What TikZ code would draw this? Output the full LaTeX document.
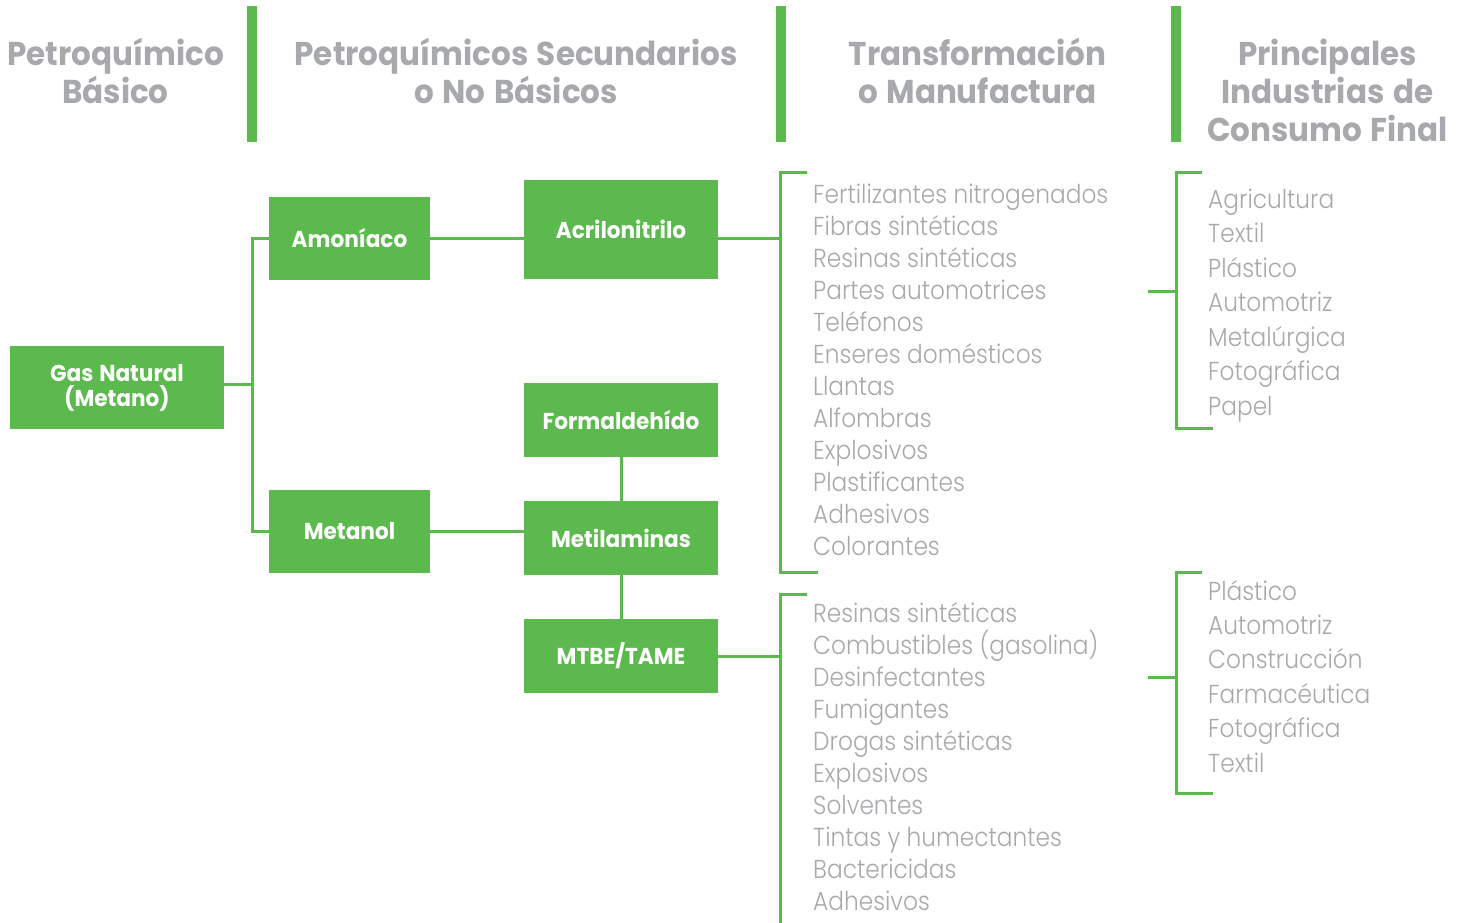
\documentclass[tikz,border=0pt]{standalone}
\usepackage{fontspec}
\IfFontExistsTF{Poppins Light}%
  {\newfontfamily\listfont[FakeStretch=0.895]{Poppins Light}}%
  {\newfontfamily\listfont[FakeStretch=0.895]{Poppins}}
\newfontfamily\headfont[FakeStretch=0.94,WordSpace=1.3]{Poppins}
\definecolor{pgreen}{HTML}{5BB94D}
\definecolor{pgray}{HTML}{A7A9AC}
\tikzset{
  gbox/.style={fill=pgreen, text=white, inner sep=0pt, align=center,
    font=\headfont\bfseries\fontsize{23}{25}\selectfont},
  conn/.style={draw=pgreen, line width=3pt},
  item/.style={anchor=base west, inner sep=0pt, text=pgray,
    font=\listfont\fontsize{26}{30}\selectfont},
  head/.style={anchor=base, inner sep=0pt, text=pgray,
    font=\headfont\bfseries\fontsize{33}{38}\selectfont},
}
\begin{document}
\begin{tikzpicture}[x=1pt,y=-1pt]
\useasboundingbox (0,0) rectangle (1467,922);
% header bars
\fill[pgreen] (247,6) rectangle (257,142);
\fill[pgreen] (776,6) rectangle (786,142);
\fill[pgreen] (1171,6) rectangle (1181,142);
% headings
\node[head] (h1a) at (115.5,65) {Petroquímico};
\node[head] (h1b) at (115.5,103) {Básico};
\node[head] (h2a) at (516,65) {Petroquímicos Secundarios};
\node[head] (h2b) at (516,103) {o No Básicos};
\node[head] (h3a) at (977.5,65) {Transformación};
\node[head] (h3b) at (977.5,103) {o Manufactura};
\node[head] (h4a) at (1327.5,65) {Principales};
\node[head] (h4b) at (1327.5,103) {Industrias de};
\node[head] (h4c) at (1327.5,141.5) {Consumo Final};
% boxes
\node[gbox, minimum width=214pt, minimum height=83pt] (gas) at (117,387.5) {Gas Natural\\(Metano)};
\node[gbox, minimum width=161pt, minimum height=83pt] (amon) at (349.5,238.5) {Amoníaco};
\node[gbox, minimum width=161pt, minimum height=83pt] (meta) at (349.5,531.5) {Metanol};
\node[gbox, minimum width=194pt, minimum height=99pt] (acr) at (621,229.5) {Acrilonitrilo};
\node[gbox, minimum width=194pt, minimum height=74pt] (form) at (621,420) {Formaldehído};
\node[gbox, minimum width=194pt, minimum height=74pt] (meti) at (621,538) {Metilaminas};
\node[gbox, minimum width=194pt, minimum height=74pt] (mtbe) at (621,656) {MTBE/TAME};
% trunk
\coordinate (tr) at (252,384);
\draw[conn] (gas.east |- tr) -- (tr);
\draw[conn] (amon.west) -| (tr) |- (meta.west);
\draw[conn] (amon.east) -- (amon.east -| acr.west);
\draw[conn] (meta.east) -- (meta.east -| meti.west);
\draw[conn] (form.south) -- (meti.north);
\draw[conn] (meti.south) -- (mtbe.north);
% bracket 1
\coordinate (b1t) at (780,172);
\coordinate (b1b) at (780,572);
\coordinate (b1tt) at (807,172);
\coordinate (b1bb) at (818,572);
\draw[conn] (amon.east -| acr.east) -- (amon.east -| b1t);
\draw[conn] (b1tt) -- (b1t) -- (b1b) -- (b1bb);
% bracket 2
\coordinate (b2t) at (780,594);
\coordinate (b2b) at (780,925);
\coordinate (b2tt) at (807,594);
\draw[conn] (mtbe.east) -- (mtbe.east -| b2t);
\draw[conn] (b2tt) -- (b2t) -- (b2b);
% right bracket 1
\coordinate (r1s) at (1148,291);
\coordinate (r1t) at (1176,172);
\coordinate (r1b) at (1176,428);
\coordinate (r1tt) at (1202,172);
\coordinate (r1bb) at (1213,428);
\draw[conn] (r1s) -- (r1s -| r1t);
\draw[conn] (r1tt) -- (r1t) -- (r1b) -- (r1bb);
% right bracket 2
\coordinate (r2s) at (1148,677);
\coordinate (r2t) at (1176,572);
\coordinate (r2b) at (1176,793);
\coordinate (r2tt) at (1202,572);
\coordinate (r2bb) at (1213,793);
\draw[conn] (r2s) -- (r2s -| r2t);
\draw[conn] (r2tt) -- (r2t) -- (r2b) -- (r2bb);
% lists
\foreach \t [count=\i] in {Fertilizantes nitrogenados, Fibras sintéticas, Resinas sintéticas, Partes automotrices, Teléfonos, Enseres domésticos, Llantas, Alfombras, Explosivos, Plastificantes, Adhesivos, Colorantes}
  \node[item] (la\i) at (813,{203+32*(\i-1)}) {\t};
\foreach \t [count=\i] in {Resinas sintéticas, Combustibles (gasolina), Desinfectantes, Fumigantes, Drogas sintéticas, Explosivos, Solventes, Tintas y humectantes, Bactericidas, Adhesivos}
  \node[item] (lb\i) at (813,{622+32*(\i-1)}) {\t};
\foreach \t [count=\i] in {Agricultura, Textil, Plástico, Automotriz, Metalúrgica, Fotográfica, Papel}
  \node[item] (ra\i) at (1208,{208+34.5*(\i-1)}) {\t};
\foreach \t [count=\i] in {Plástico, Automotriz, Construcción, Farmacéutica, Fotográfica, Textil}
  \node[item] (rb\i) at (1208,{600+34.4*(\i-1)}) {\t};
\end{tikzpicture}
\end{document}
